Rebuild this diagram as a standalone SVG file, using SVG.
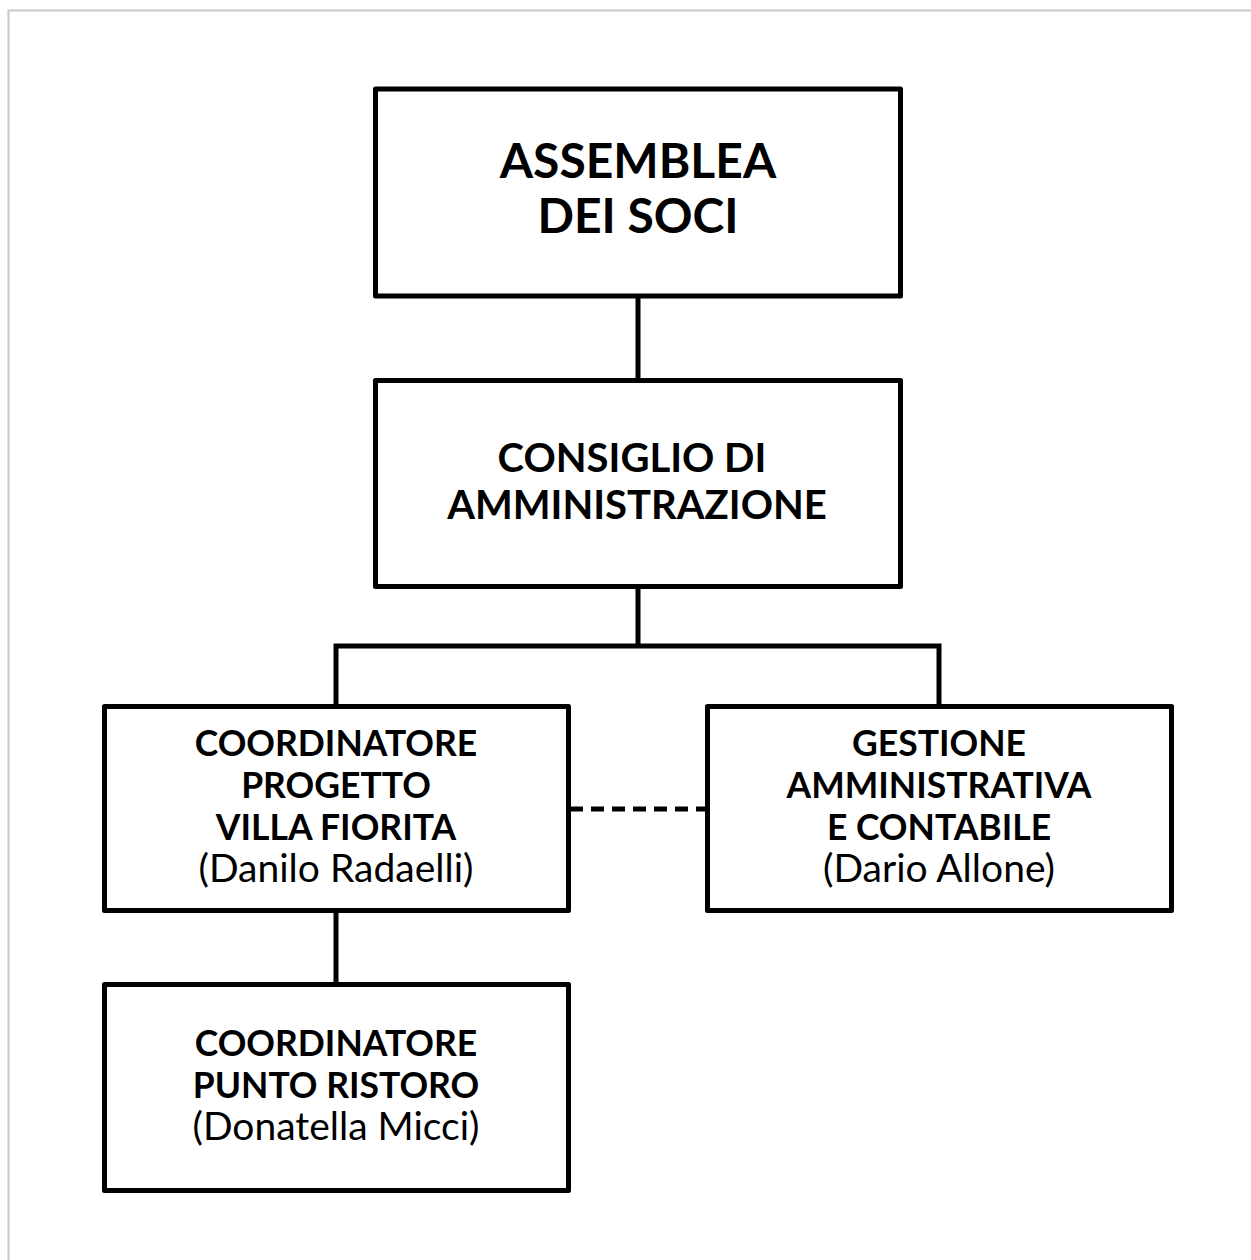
<svg xmlns="http://www.w3.org/2000/svg" width="1251" height="1260" viewBox="0 0 1251 1260">
<style>
.box{fill:#fff;stroke:#000;stroke-width:5;stroke-linejoin:round}
.ln{fill:none;stroke:#000;stroke-width:5}
.dash{fill:none;stroke:#000;stroke-width:5;stroke-dasharray:13 8}
text{font-family:Lato,"Open Sans","Liberation Sans",sans-serif;text-anchor:middle;fill:#000}
.b{font-weight:bold}
.t1{font-size:48px}
.t2{font-size:40px}
.t3{font-size:35.5px}
.r{font-size:39px;font-weight:normal}
</style>
<rect x="0" y="0" width="1251" height="1260" fill="#fff"/>
<rect x="8.5" y="10.5" width="1260" height="1270" fill="none" stroke="#c8c8c8" stroke-width="2"/>
<g id="connectors">
<line class="ln" x1="638" y1="296" x2="638" y2="380"/>
<polyline class="ln" points="638,587 638,646"/>
<polyline class="ln" points="336,706 336,646 939,646 939,706"/>
<line class="ln" x1="336" y1="911" x2="336" y2="984"/>
<line class="dash" x1="570" y1="809" x2="705" y2="809"/>
</g>
<g id="assemblea">
<rect class="box" x="375.5" y="89" width="525" height="207"/>
<text class="b t1" x="638" y="178">ASSEMBLEA</text>
<text class="b t1" x="638" y="233">DEI SOCI</text>
</g>
<g id="consiglio">
<rect class="box" x="375.5" y="380.5" width="525" height="206"/>
<text class="b t2" x="632" y="472">CONSIGLIO DI</text>
<text class="b t2" x="637" y="519">AMMINISTRAZIONE</text>
</g>
<g id="villa">
<rect class="box" x="104.5" y="706.5" width="464" height="204"/>
<text class="b t3" x="336" y="756">COORDINATORE</text>
<text class="b t3" x="336" y="798">PROGETTO</text>
<text class="b t3" x="336" y="840">VILLA FIORITA</text>
<text class="r" x="336" y="882">(Danilo Radaelli)</text>
</g>
<g id="gestione">
<rect class="box" x="707.5" y="706.5" width="464" height="204"/>
<text class="b t3" x="939" y="756">GESTIONE</text>
<text class="b t3" x="939" y="798">AMMINISTRATIVA</text>
<text class="b t3" x="939" y="840">E CONTABILE</text>
<text class="r" x="939" y="882">(Dario Allone)</text>
</g>
<g id="ristoro">
<rect class="box" x="104.5" y="984.5" width="464" height="206"/>
<text class="b t3" x="336" y="1056">COORDINATORE</text>
<text class="b t3" x="336" y="1098">PUNTO RISTORO</text>
<text class="r" x="336" y="1140">(Donatella Micci)</text>
</g>
</svg>
